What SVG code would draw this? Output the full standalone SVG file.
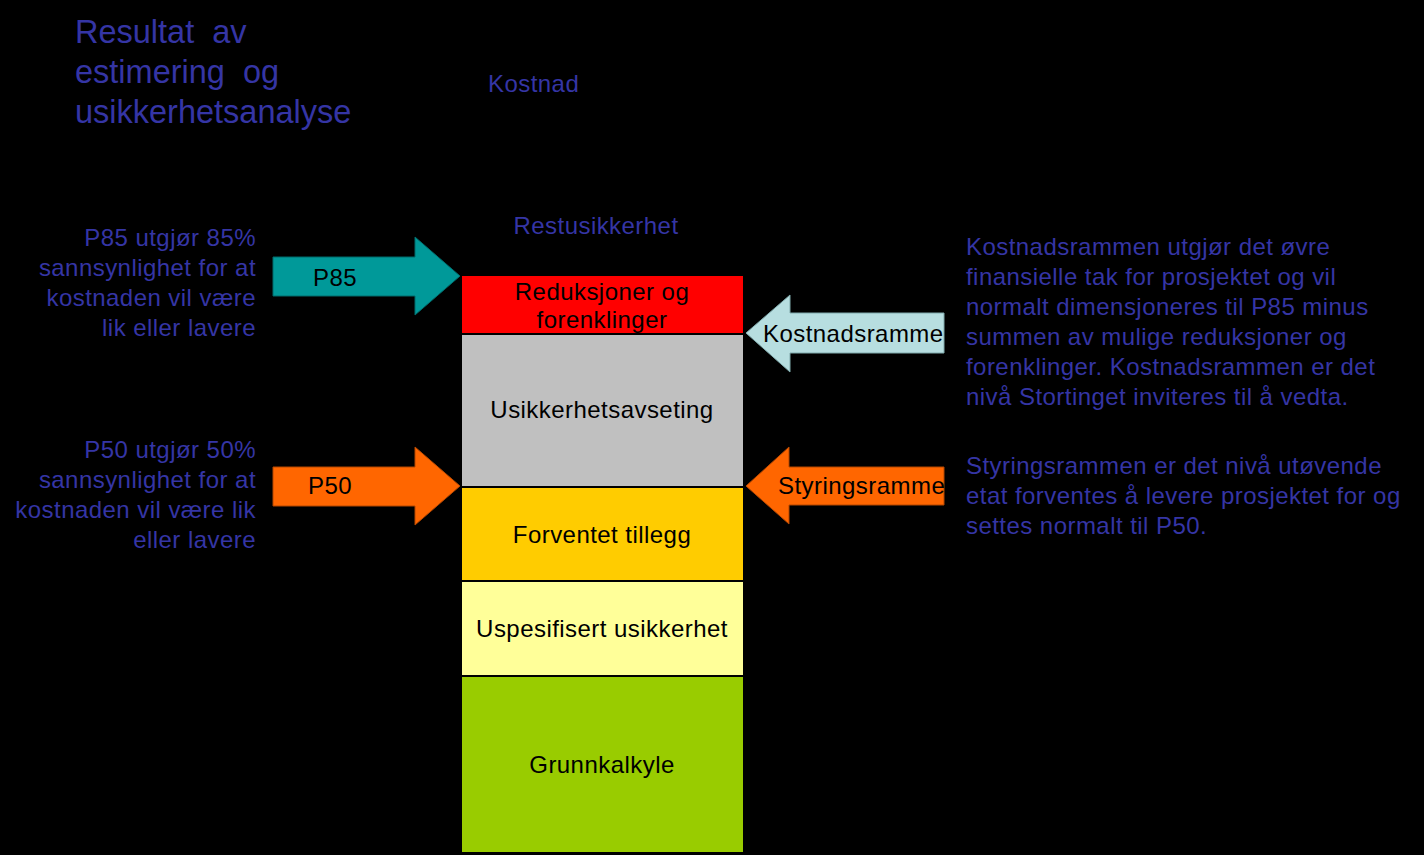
<svg xmlns="http://www.w3.org/2000/svg" width="1424" height="855" viewBox="0 0 1424 855">
<style>
text{font-family:"Liberation Sans",Arial,sans-serif;font-size:24px;letter-spacing:0.45px}
.b{fill:#3535A5}
.k{fill:#000}
.m{text-anchor:middle}
.r{text-anchor:end}
.t{font-size:32.5px;letter-spacing:0}
</style>
<rect width="1424" height="855" fill="#000"/>
<g id="title" class="b">
<text class="t" x="75" y="43" xml:space="preserve">Resultat  av</text>
<text class="t" x="75" y="83" xml:space="preserve">estimering  og</text>
<text class="t" x="75" y="123">usikkerhetsanalyse</text>
</g>
<g id="labels" class="b">
<text x="488" y="92">Kostnad</text>
<text x="596" y="234" class="m">Restusikkerhet</text>
</g>
<g id="p85-desc" class="b">
<text x="256" y="246" class="r">P85 utgjør 85%</text>
<text x="256" y="276" class="r">sannsynlighet for at</text>
<text x="256" y="306" class="r">kostnaden vil være</text>
<text x="256" y="336" class="r">lik eller lavere</text>
</g>
<g id="p50-desc" class="b">
<text x="256" y="458" class="r">P50 utgjør 50%</text>
<text x="256" y="488" class="r">sannsynlighet for at</text>
<text x="256" y="518" class="r">kostnaden vil være lik</text>
<text x="256" y="548" class="r">eller lavere</text>
</g>
<g id="kostnadsrammen-desc" class="b">
<text x="966" y="255">Kostnadsrammen utgjør det øvre</text>
<text x="966" y="285">finansielle tak for prosjektet og vil</text>
<text x="966" y="315">normalt dimensjoneres til P85 minus</text>
<text x="966" y="345">summen av mulige reduksjoner og</text>
<text x="966" y="375">forenklinger. Kostnadsrammen er det</text>
<text x="966" y="405">nivå Stortinget inviteres til å vedta.</text>
</g>
<g id="styringsrammen-desc" class="b">
<text x="966" y="474">Styringsrammen er det nivå utøvende</text>
<text x="966" y="504">etat forventes å levere prosjektet for og</text>
<text x="966" y="534">settes normalt til P50.</text>
</g>
<g id="stack">
<g id="reduksjoner"><rect x="462" y="276" width="281" height="57" fill="#FF0000"/>
<text x="602" y="300" class="k m">Reduksjoner og</text><text x="602" y="328" class="k m">forenklinger</text></g>
<g id="usikkerhetsavseting"><rect x="462" y="335" width="281" height="151" fill="#C0C0C0"/>
<text x="602" y="418" class="k m">Usikkerhetsavseting</text></g>
<g id="forventet"><rect x="462" y="488" width="281" height="92" fill="#FFCC00"/>
<text x="602" y="543" class="k m">Forventet tillegg</text></g>
<g id="uspesifisert"><rect x="462" y="582" width="281" height="93" fill="#FFFF99"/>
<text x="602" y="637" class="k m">Uspesifisert usikkerhet</text></g>
<g id="grunnkalkyle"><rect x="462" y="677" width="281" height="175" fill="#99CC00"/>
<text x="602" y="773" class="k m">Grunnkalkyle</text></g>
</g>
<g id="connectors">
<g id="p85"><polygon points="273,257 415,257 415,237 460,276 415,315 415,296 273,296" fill="#009999" stroke="#006B6B" stroke-width="1"/>
<text x="313" y="286" class="k">P85</text></g>
<g id="p50"><polygon points="273,467 415,467 415,447 460,486 415,525 415,506 273,506" fill="#FF6600" stroke="#B34700" stroke-width="1"/>
<text x="308" y="494" class="k">P50</text></g>
<g id="kostnadsramme"><polygon points="944,313 790,313 790,295 746,333 790,372 790,353 944,353" fill="#B7DEE0" stroke="#7FA9AB" stroke-width="1"/>
<text x="763" y="342" class="k">Kostnadsramme</text></g>
<g id="styringsramme"><polygon points="944,467 789,467 789,447 746,486 789,524 789,505 944,505" fill="#FF6600" stroke="#B34700" stroke-width="1"/>
<text x="778" y="494" class="k">Styringsramme</text></g>
</g>
</svg>
